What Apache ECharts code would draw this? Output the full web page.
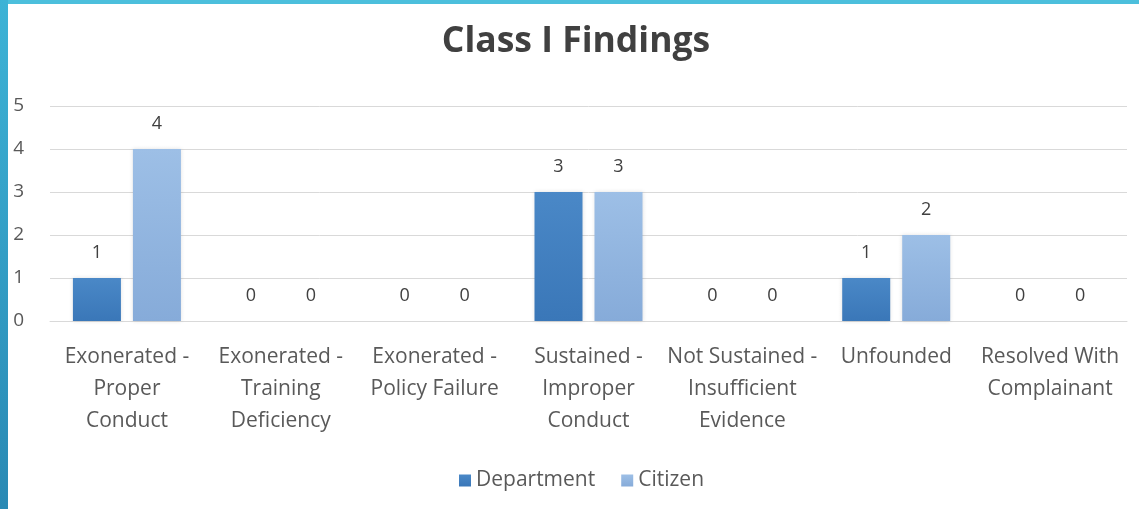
<!DOCTYPE html>
<html>
<head>
<meta charset="utf-8">
<script src="https://cdn.jsdelivr.net/npm/echarts@6/dist/echarts.min.js"></script>
<style>
  html, body { margin: 0; padding: 0; background: #ffffff; }
  #chart { width: 1139px; height: 509px; }
</style>
</head>
<body>
<div id="chart"></div>
<script>
// Finding categories (Class I complaints)
const categories = [
  'Exonerated -\nProper\nConduct',
  'Exonerated -\nTraining\nDeficiency',
  'Exonerated -\nPolicy Failure',
  'Sustained -\nImproper\nConduct',
  'Not Sustained -\nInsufficient\nEvidence',
  'Unfounded',
  'Resolved With\nComplainant'
];
const departmentValues = [1, 0, 0, 3, 0, 1, 0];
const citizenValues = [4, 0, 0, 3, 0, 2, 0];
const seriesNames = ['Department', 'Citizen'];

const FONT = '"Open Sans", Lato, sans-serif';
const chart = echarts.init(document.getElementById('chart'));

const labelStyle = {
  show: true,
  position: 'top',
  distance: 16,
  color: '#404040',
  fontFamily: FONT,
  fontSize: 18
};

chart.setOption({
  backgroundColor: '#ffffff',
  animation: false,
  title: {
    text: 'Class I Findings',
    left: 571,
    textAlign: 'center',
    top: 19,
    textStyle: { fontFamily: FONT, fontWeight: 'bold', fontSize: 35.5, color: '#404040' }
  },
  legend: {
    data: seriesNames,
    left: 454,
    top: 465,
    itemWidth: 12,
    itemHeight: 12,
    itemGap: 26,
    icon: 'rect',
    textStyle: { fontFamily: FONT, fontSize: 21, color: '#595959' }
  },
  graphic: [
    { type: 'rect', left: 0, top: 0, shape: { width: 1139, height: 4 }, style: { fill: '#4cbfdc' }, z: 100 },
    {
      type: 'rect', left: 0, top: 0, shape: { width: 8, height: 509 }, z: 101,
      style: {
        fill: new echarts.graphic.LinearGradient(0, 0, 0, 1, [
          { offset: 0, color: '#3db3d6' },
          { offset: 1, color: '#2989b4' }
        ])
      }
    }
  ],
  grid: { left: 50, right: 12, top: 106, bottom: 188 },
  xAxis: {
    type: 'category',
    data: categories,
    axisLine: { show: true, lineStyle: { color: '#d9d9d9', width: 1 } },
    axisTick: { show: false },
    axisLabel: {
      interval: 0,
      margin: 20,
      color: '#595959',
      fontFamily: FONT,
      fontSize: 21,
      lineHeight: 32
    }
  },
  yAxis: {
    type: 'value',
    min: 0,
    max: 5,
    interval: 1,
    axisLine: { show: false },
    axisTick: { show: false },
    splitLine: { lineStyle: { color: '#d9d9d9', width: 1 } },
    axisLabel: { margin: 26, color: '#595959', fontFamily: FONT, fontSize: 19 }
  },
  series: [
    {
      name: seriesNames[0],
      type: 'bar',
      data: departmentValues,
      barWidth: 48,
      barGap: '25%',
      itemStyle: {
        color: new echarts.graphic.LinearGradient(0, 0, 0, 1, [
          { offset: 0, color: '#4a88c7' },
          { offset: 1, color: '#3a77b8' }
        ]),
        shadowColor: 'rgba(0,0,0,0.12)',
        shadowBlur: 4
      },
      label: labelStyle
    },
    {
      name: seriesNames[1],
      type: 'bar',
      data: citizenValues,
      barWidth: 48,
      itemStyle: {
        color: new echarts.graphic.LinearGradient(0, 0, 0, 1, [
          { offset: 0, color: '#9dbfe6' },
          { offset: 1, color: '#86abd9' }
        ]),
        shadowColor: 'rgba(0,0,0,0.12)',
        shadowBlur: 4
      },
      label: labelStyle
    }
  ]
});
</script>
</body>
</html>
